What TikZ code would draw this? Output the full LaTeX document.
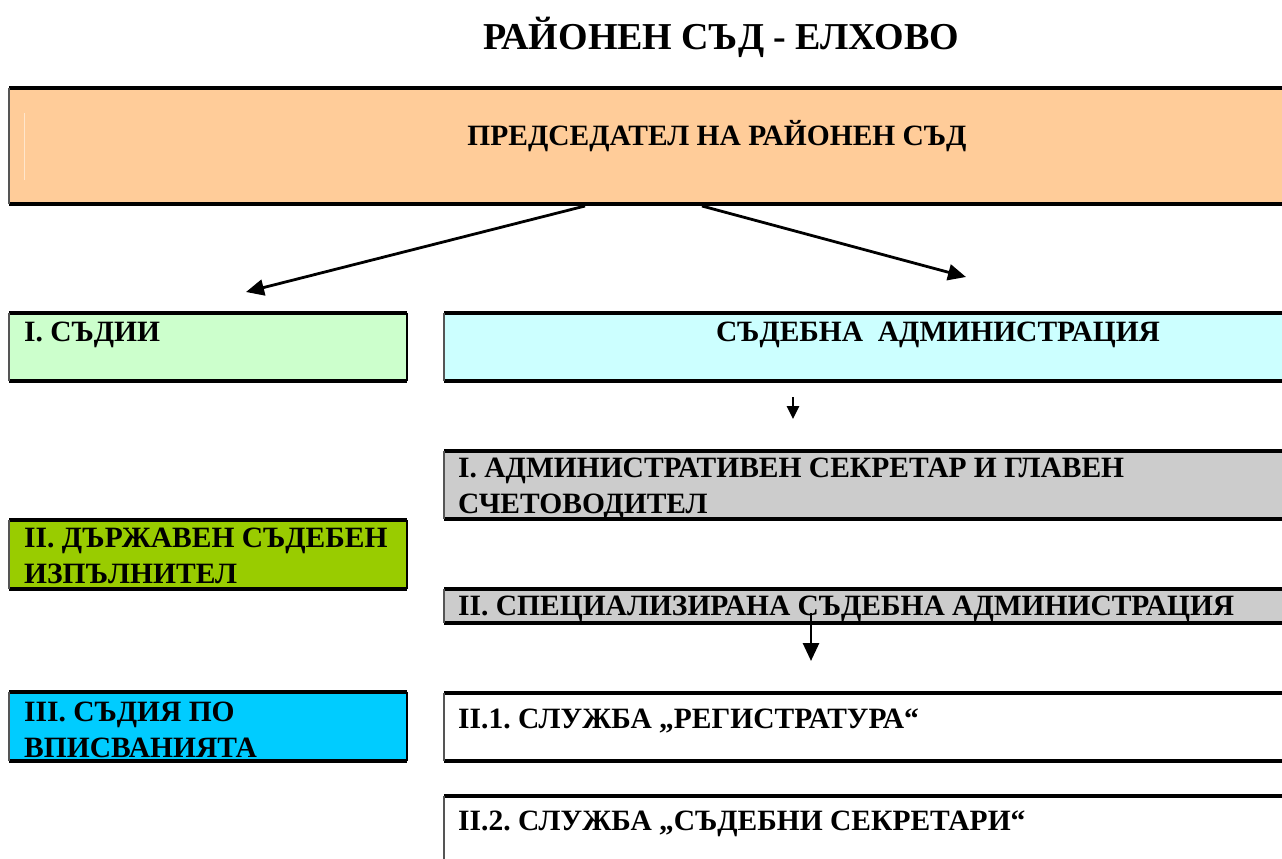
\documentclass[tikz,border=0pt]{standalone}
\usepackage{fontspec}
\setmainfont{Liberation Serif}
\usetikzlibrary{arrows.meta}
\definecolor{peach}{HTML}{FFCC99}
\definecolor{palegreen}{HTML}{CCFFCC}
\definecolor{palecyan}{HTML}{CCFFFF}
\definecolor{midgray}{HTML}{CCCCCC}
\definecolor{olivegreen}{HTML}{99CC00}
\definecolor{skyblue}{HTML}{00CCFF}
\definecolor{sidegray}{HTML}{555555}
\definecolor{faintline}{HTML}{FFE6CC}
\frenchspacing
\begin{document}
\begin{tikzpicture}[x=1pt,y=-1pt,
  panel/.style={draw=none, inner sep=0pt, outer sep=0pt, anchor=north west},
  hline/.style={line width=3.4pt, black},
  vline/.style={line width=1.8pt, sidegray},
  rline/.style={line width=2.4pt, black},
  boxtext/.style={anchor=base west, inner sep=0pt, font=\fontsize{29.5}{36}\selectfont\bfseries},
  ctext/.style={anchor=base, inner sep=0pt, font=\fontsize{29.5}{36}\selectfont\bfseries},
  conn/.style={line width=2.8pt, -{Triangle[length=18pt,width=16pt]}},
  smallconn/.style={line width=2.6pt, -{Triangle[length=13pt,width=12pt]}}
]
\useasboundingbox (0,0) rectangle (1282,859);
\clip (0,0) rectangle (1282,859);

% title
\node[anchor=base, inner sep=0pt, font=\fontsize{38}{44}\selectfont\bfseries] (title) at (721,50) {РАЙОНЕН СЪД - ЕЛХОВО};

% top box
\node[panel, fill=peach, minimum width=1300pt, minimum height=116pt] (pres) at (9,88) {};
\draw[hline] (pres.north west) -- (pres.north east);
\draw[hline] (pres.south west) -- (pres.south east);
\draw[vline] (pres.north west) -- (pres.south west);
\draw[faintline, line width=1pt] (24,113) -- (24,180);
\node[ctext] (prestext) at (717,145) {ПРЕДСЕДАТЕЛ НА РАЙОНЕН СЪД};

% judges
\node[panel, fill=palegreen, minimum width=398pt, minimum height=68pt] (judges) at (9,313) {};
\draw[hline] (judges.north west) -- (judges.north east);
\draw[hline] (judges.south west) -- (judges.south east);
\draw[vline] (judges.north west) -- (judges.south west);
\draw[rline] (judges.north east) -- (judges.south east);
\node[boxtext] (judgestext) at (24,341) {I. СЪДИИ};

% administration
\node[panel, fill=palecyan, minimum width=900pt, minimum height=68pt] (admin) at (444,313) {};
\draw[hline] (admin.north west) -- (admin.north east);
\draw[hline] (admin.south west) -- (admin.south east);
\draw[vline] (admin.north west) -- (admin.south west);
\node[ctext] (admintext) at (938,341) {СЪДЕБНА\ \ АДМИНИСТРАЦИЯ};

% state enforcement agent
\node[panel, fill=olivegreen, minimum width=398pt, minimum height=69pt] (bailiff) at (9,520) {};
\draw[hline] (bailiff.north west) -- (bailiff.north east);
\draw[hline] (bailiff.south west) -- (bailiff.south east);
\draw[vline] (bailiff.north west) -- (bailiff.south west);
\draw[rline] (bailiff.north east) -- (bailiff.south east);
\node[boxtext] (bailifftext) at (24,547) {\begin{tabular}[t]{@{}l@{}}II. ДЪРЖАВЕН СЪДЕБЕН\\ИЗПЪЛНИТЕЛ\end{tabular}};

% registry judge
\node[panel, fill=skyblue, minimum width=398pt, minimum height=69pt] (regjudge) at (9,692) {};
\draw[hline] (regjudge.north west) -- (regjudge.north east);
\draw[hline] (regjudge.south west) -- (regjudge.south east);
\draw[vline] (regjudge.north west) -- (regjudge.south west);
\draw[rline] (regjudge.north east) -- (regjudge.south east);
\node[boxtext] (regjudgetext) at (24,721) {\begin{tabular}[t]{@{}l@{}}III. СЪДИЯ ПО\\ВПИСВАНИЯТА\end{tabular}};

% admin secretary
\node[panel, fill=midgray, minimum width=900pt, minimum height=68pt] (secr) at (444,451) {};
\draw[hline] (secr.north west) -- (secr.north east);
\draw[hline] (secr.south west) -- (secr.south east);
\draw[vline] (secr.north west) -- (secr.south west);
\node[boxtext] (secrtext) at (458,477) {\begin{tabular}[t]{@{}l@{}}I. АДМИНИСТРАТИВЕН СЕКРЕТАР И ГЛАВЕН\\СЧЕТОВОДИТЕЛ\end{tabular}};

% specialised administration
\node[panel, fill=midgray, minimum width=900pt, minimum height=34pt] (spec) at (444,589) {};
\draw[hline] (spec.north west) -- (spec.north east);
\draw[hline] (spec.south west) -- (spec.south east);
\draw[vline] (spec.north west) -- (spec.south west);
\node[boxtext] (spectext) at (458,615) {II. СПЕЦИАЛИЗИРАНА СЪДЕБНА АДМИНИСТРАЦИЯ};

% registry
\node[panel, fill=white, minimum width=900pt, minimum height=68pt] (registry) at (444,693) {};
\draw[hline] (registry.north west) -- (registry.north east);
\draw[hline] (registry.south west) -- (registry.south east);
\draw[vline] (registry.north west) -- (registry.south west);
\node[boxtext] (registrytext) at (458,728) {II.1. СЛУЖБА „РЕГИСТРАТУРА“};

% secretaries
\node[panel, fill=white, minimum width=900pt, minimum height=100pt] (secrs) at (444,796) {};
\draw[hline] (secrs.north west) -- (secrs.north east);
\draw[vline] (secrs.north west) -- (secrs.south west);
\node[boxtext] (secrstext) at (458,830) {II.2. СЛУЖБА „СЪДЕБНИ СЕКРЕТАРИ“};

% connectors
\coordinate (a1s) at (585,206);
\coordinate (a1e) at (246,292);
\coordinate (a2s) at (702,206);
\coordinate (a2e) at (966,277);
\coordinate (a3s) at (793,397);
\coordinate (a3e) at (793,419);
\coordinate (a4s) at (811,613);
\coordinate (a4e) at (811,661);
\draw[conn] (a1s) -- (a1e);
\draw[conn] (a2s) -- (a2e);
\draw[smallconn] (a3s) -- (a3e);
\draw[conn] (a4s) -- (a4e);
\end{tikzpicture}
\end{document}
